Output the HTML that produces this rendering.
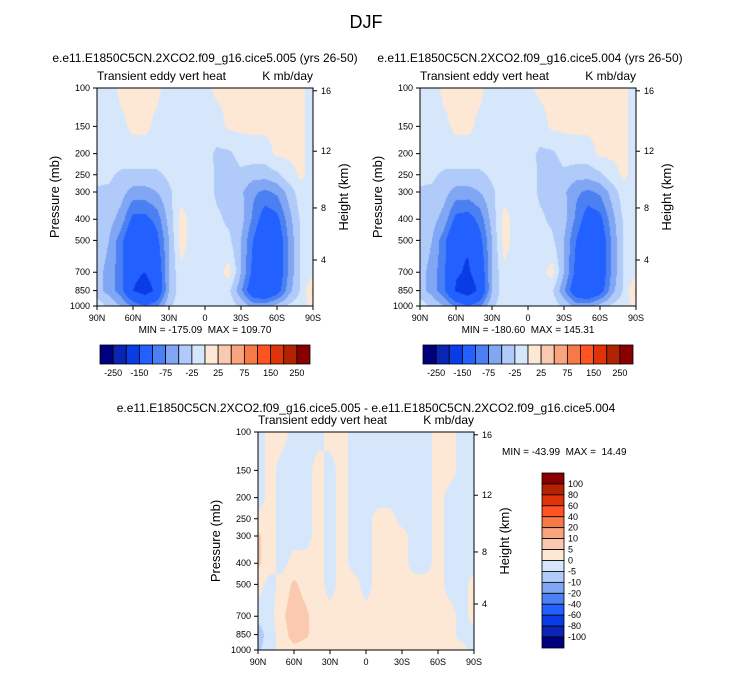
<!DOCTYPE html>
<html><head><meta charset="utf-8">
<style>
body{margin:0;background:#fff;}
svg text{font-family:"Liberation Sans",Arial,sans-serif;fill:#000;white-space:pre;}
</style></head>
<body>
<div style="position:relative;width:733px;height:673px;overflow:hidden;">
<canvas id="c1" width="216" height="218" style="position:absolute;left:97px;top:88px;"></canvas>
<canvas id="c2" width="216" height="218" style="position:absolute;left:420px;top:88px;"></canvas>
<canvas id="c3" width="216" height="218" style="position:absolute;left:258px;top:432px;"></canvas>
<svg id="s" width="733" height="673" style="position:absolute;left:0;top:0;"></svg>
</div>
<script>
const lats=[90,80,70,60,50,40,30,20,10,0,-10,-20,-30,-40,-50,-60,-70,-80,-90];
const pLevels=[100,150,200,250,300,400,500,700,850,1000];
const vals005=[
[-10,-10,5,5,5,5,-10,-10,-10,-5,5,5,5,5,5,5,5,5,-10],
[-10,-10,-5,5,5,-5,-10,-10,-10,-10,-10,5,5,5,5,5,5,5,-10],
[-10,-10,-10,-10,-10,-10,-10,-10,-10,-15,-30,-30,-15,-10,-10,5,5,5,-10],
[-15,-20,-30,-30,-30,-30,-20,-10,-10,-10,-30,-40,-30,-40,-40,-30,-10,5,-10],
[-30,-30,-40,-60,-60,-50,-30,-10,-10,-10,-30,-35,-45,-70,-80,-70,-40,-10,-10],
[-30,-40,-60,-110,-110,-90,-40,10,-10,-10,-20,-30,-40,-80,-120,-110,-60,-20,-10],
[-30,-50,-90,-140,-140,-110,-50,10,-10,-10,-20,-20,-50,-100,-140,-130,-70,-20,-10],
[-40,-60,-90,-140,-150,-130,-50,-5,-10,-10,-10,10,-50,-110,-150,-130,-70,-20,-10],
[-40,-60,-90,-150,-170,-140,-50,-10,-10,-10,-10,-20,-70,-130,-150,-120,-60,-20,30],
[-10,-30,-50,-80,-100,-80,-30,-10,-10,-10,-10,-10,-30,-60,-60,-40,-20,-10,5]];
const vals004=[
[-10,-10,5,5,5,5,-10,-10,-10,-5,5,5,5,5,5,5,5,5,-10],
[-10,-10,-5,5,5,-5,-10,-10,-10,-10,-10,5,5,5,5,5,5,5,-10],
[-10,-10,-10,-10,-10,-10,-10,-10,-10,-15,-30,-30,-15,-10,-10,5,5,5,-10],
[-15,-20,-30,-30,-30,-30,-20,-10,-10,-10,-30,-40,-30,-40,-40,-30,-10,5,-10],
[-30,-30,-40,-60,-60,-50,-30,-10,-10,-10,-30,-35,-45,-70,-80,-70,-40,-10,-10],
[-30,-40,-60,-110,-115,-90,-40,10,-10,-10,-20,-30,-40,-80,-120,-110,-60,-20,-10],
[-30,-50,-90,-145,-145,-110,-50,10,-10,-10,-20,-20,-50,-100,-140,-130,-70,-20,-10],
[-40,-60,-95,-145,-155,-130,-50,-5,-10,-10,-10,10,-50,-110,-150,-130,-70,-20,-10],
[-40,-60,-95,-155,-175,-140,-50,-10,-10,-10,-10,-20,-70,-130,-150,-120,-60,-20,30],
[-10,-30,-50,-80,-100,-80,-30,-10,-10,-10,-10,-10,-30,-60,-60,-40,-20,-10,5]];
const valsDiff=[
[-3,2,2,-2,-2,-2,2,2,-2,-2,-2,-2,-2,-2,-2,2,2,-2,-2],
[-3,2,-2,-2,-2,2,-2,2,-2,-2,-2,-2,-2,-2,-2,2,2,-2,-2],
[-3,2,-2,-2,-2,2,-2,2,-2,-2,-2,-2,-2,-2,-2,2,-2,-2,-2],
[2,2,-2,-2,-2,2,-2,2,-2,-2,2,2,-2,-2,-2,2,-2,-2,-2],
[6,2,-2,-2,-2,2,-2,2,-2,-2,2,2,2,-2,-2,2,-2,-2,-2],
[6,2,-2,2,2,2,-2,2,-2,-2,2,2,2,-2,-2,2,-2,-2,-2],
[2,-2,2,6,3,2,-2,2,2,-2,2,2,2,2,2,2,-2,-2,2],
[-3,-2,4,8,6,2,2,2,2,2,2,2,2,2,2,2,2,-2,2],
[-8,-2,2,8,6,2,2,2,2,2,2,2,2,2,2,2,2,-2,-2],
[-6,-2,2,3,2,2,2,2,2,2,2,2,2,2,2,2,2,2,-2]];
const levelsMain=[-250,-200,-150,-100,-75,-50,-25,0,25,50,75,100,150,200,250];
const levelsDiff=[-100,-80,-60,-40,-20,-10,-5,0,5,10,20,40,60,80,100];
const barLabelsMain=["-250","-150","-75","-25","25","75","150","250"];
const barLabelsDiff=["100","80","60","40","20","10","5","0","-5","-10","-20","-40","-60","-80","-100"];
const xTickLabels=["90N","60N","30N","0","30S","60S","90S"];
const xTickLats=[90,60,30,0,-30,-60,-90];
const yTicks=[100,150,200,250,300,400,500,700,850,1000];
const hTicks=[4,8,12,16];
const hTickPressures=[615,355,195,103];
const colors=["#00007f","#0a24b4","#0a3ce6","#2260ff","#4a80f2","#80a6f4","#b0cafa","#d6e7fb","#fde8d6","#fbc9af","#f8a47f","#f67a48","#ff5422","#e0330a","#b12302","#880000"];

function colorFor(v,lv){let i=0;while(i<lv.length&&v>=lv[i])i++;return colors[i];}
function hex(c){return [parseInt(c.substr(1,2),16),parseInt(c.substr(3,2),16),parseInt(c.substr(5,2),16)];}
const lp=pLevels.map(p=>Math.log(p));
function yFrac(p){return (Math.log(p)-Math.log(100))/(Math.log(1000)-Math.log(100));}
function drawHeat(id,vals,lv){
  const c=document.getElementById(id),ctx=c.getContext('2d'),W=c.width,H=c.height;
  const img=ctx.createImageData(W,H);
  for(let y=0;y<H;y++){
    const L=Math.log(100)+(y+0.5)/H*(Math.log(1000)-Math.log(100));
    let r=0;while(r<lp.length-2&&L>lp[r+1])r++;
    const fy=Math.min(1,Math.max(0,(L-lp[r])/(lp[r+1]-lp[r])));
    for(let x=0;x<W;x++){
      const gx=(x+0.5)/W*(lats.length-1);
      const i=Math.min(lats.length-2,Math.floor(gx)),fx=gx-i;
      const v=(vals[r][i]*(1-fx)+vals[r][i+1]*fx)*(1-fy)+(vals[r+1][i]*(1-fx)+vals[r+1][i+1]*fx)*fy;
      const col=hex(colorFor(v,lv));const k=(y*W+x)*4;
      img.data[k]=col[0];img.data[k+1]=col[1];img.data[k+2]=col[2];img.data[k+3]=255;
    }
  }
  ctx.putImageData(img,0,0);
}
drawHeat('c1',vals005,levelsMain);
drawHeat('c2',vals004,levelsMain);
drawHeat('c3',valsDiff,levelsDiff);

const S=document.getElementById('s');const NS="http://www.w3.org/2000/svg";
function el(tag,a,txt){const e=document.createElementNS(NS,tag);for(const k in a)e.setAttribute(k,a[k]);if(txt!==undefined)e.textContent=txt;S.appendChild(e);return e;}
function txt(x,y,s,size,anchor,name,extra){const e=el('text',Object.assign({x:x,y:y,'font-size':size,'text-anchor':anchor||'start'},extra||{}),s);

return e;}

function axes(x0,y0,W,H,pre){
  const f=el('rect',{x:x0,y:y0,width:W,height:H,fill:'none',stroke:'#000','stroke-width':1});
  
  
  xTickLats.forEach((la,i)=>{const x=x0+(90-la)/180*W;
    const t=el('line',{x1:x,y1:y0+H,x2:x,y2:y0+H+4,stroke:'#000'});
    
    
    txt(x,y0+H+15,xTickLabels[i],9,'middle',pre+'-x-tick-label');});
  yTicks.forEach(p=>{const y=y0+yFrac(p)*H;
    const t=el('line',{x1:x0-4,y1:y,x2:x0,y2:y,stroke:'#000'});
    
    
    txt(x0-7,y+3,String(p),9,'end',pre+'-y-tick-label');});
  hTicks.forEach((h,i)=>{const y=y0+yFrac(hTickPressures[i])*H;
    const t=el('line',{x1:x0+W,y1:y,x2:x0+W+4,y2:y,stroke:'#000'});
    
    
    txt(x0+W+8,y+3,String(h),9,'start',pre+'-height-tick-label');});
  txt(x0,y0-8,'Transient eddy vert heat',12,'start',pre+'-left-subtitle');
  txt(x0+W,y0-8,'K mb/day',12,'end',pre+'-right-subtitle');
  txt(0,0,'Pressure (mb)',13,'middle',pre+'-y-axis-title',{transform:`translate(${x0-38},${y0+H/2}) rotate(-90)`});
  txt(0,0,'Height (km)',13,'middle',pre+'-y2-axis-title',{transform:`translate(${x0+W+35},${y0+H/2}) rotate(-90)`});
}
txt(366,28,'DJF',18,'middle','main-title');
txt(205,62,'e.e11.E1850C5CN.2XCO2.f09_g16.cice5.005 (yrs 26-50)',12,'middle','plot1-title');
txt(530,62,'e.e11.E1850C5CN.2XCO2.f09_g16.cice5.004 (yrs 26-50)',12,'middle','plot2-title');
axes(97,88,216,218,'plot1');
axes(420,88,216,218,'plot2');
txt(205,333,'MIN = -175.09  MAX = 109.70',10,'middle','plot1-minmax');
txt(528,333,'MIN = -180.60  MAX = 145.31',10,'middle','plot2-minmax');
function hbar(x0,y0,W,H,pre){
  const n=colors.length,bw=W/n;
  colors.forEach((c,i)=>{const r=el('rect',{x:x0+i*bw,y:y0,width:bw,height:H,fill:c,stroke:'#000','stroke-width':0.8});
    
    });
  barLabelsMain.forEach((s,i)=>{const x=x0+(1+2*i)*bw;txt(x,y0+H+12,s,9,'middle',pre+'-colorbar-label');});
}
hbar(100,345,210,19,'plot1');
hbar(423,345,210,19,'plot2');
txt(366,412,'e.e11.E1850C5CN.2XCO2.f09_g16.cice5.005 - e.e11.E1850C5CN.2XCO2.f09_g16.cice5.004',12,'middle','diff-title');
axes(258,432,216,218,'diff');
txt(502,455,'MIN = -43.99  MAX =  14.49',10,'start','diff-minmax');
(function(){const x0=542,y0=473,W=22,H=175,n=colors.length,bh=H/n;
  colors.slice().reverse().forEach((c,i)=>{const r=el('rect',{x:x0,y:y0+i*bh,width:W,height:bh,fill:c,stroke:'#000','stroke-width':0.8});
    
    });
  barLabelsDiff.forEach((s,i)=>{txt(x0+W+4,y0+(i+1)*bh+3,s,9,'start','diff-colorbar-label');});
})();
</script>
</body></html>
